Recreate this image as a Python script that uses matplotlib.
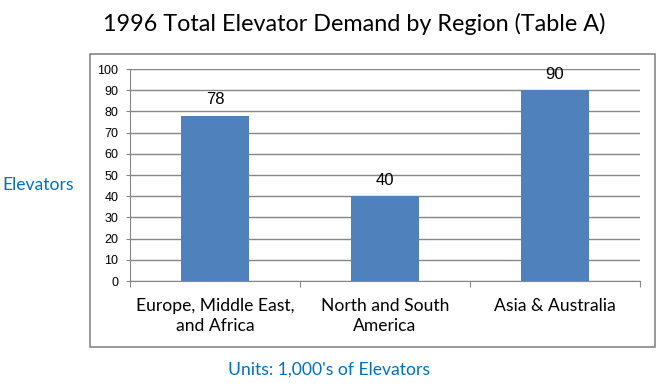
import matplotlib
matplotlib.use("Agg")
import matplotlib.pyplot as plt
from matplotlib.patches import Rectangle

categories = ["Europe, Middle East,\nand Africa", "North and South\nAmerica", "Asia & Australia"]
values = [78, 40, 90]
yticks = [0, 10, 20, 30, 40, 50, 60, 70, 80, 90, 100]

W, H = 661, 391
fig = plt.figure(figsize=(W / 100, H / 100), dpi=100)
fig.patch.set_facecolor("white")

# outer plot-area border
fig.patches.append(Rectangle((90 / W, 1 - 347 / H), (655 - 90) / W, (347 - 54) / H,
                             transform=fig.transFigure, fill=False,
                             edgecolor="#868686", linewidth=1.2))

ax = fig.add_axes([130 / W, 1 - 281 / H, (640 - 130) / W, (281 - 69) / H])
x = list(range(len(categories)))
bars = ax.bar(x, values, width=0.4, color="#4F81BD", zorder=3)
ax.set_xlim(-0.5, len(categories) - 0.5)
ax.set_ylim(0, 100)
ax.set_yticks(yticks)
ax.set_yticklabels([str(t) for t in yticks], fontsize=9, family="Liberation Sans")
ax.yaxis.grid(True, color="#868686", linewidth=1.0, zorder=0)
ax.tick_params(axis="y", length=3, color="#868686", pad=5.5)
ax.set_xticks([i - 0.5 for i in range(len(categories) + 1)], minor=False)
ax.set_xticklabels([])
ax.tick_params(axis="x", length=4, color="#868686")
ax.set_xticks(x, minor=True)
ax.set_xticklabels(categories, minor=True, fontsize=12.6, family="Lato", linespacing=1.3)
ax.tick_params(axis="x", which="minor", length=0, pad=12)
for s in ["top", "right"]:
    ax.spines[s].set_visible(False)
for s in ["left", "bottom"]:
    ax.spines[s].set_color("#868686")

for b, v in zip(bars, values):
    ax.annotate(str(v), (b.get_x() + b.get_width() / 2, v), xytext=(0, 6),
                textcoords="offset points", ha="center", va="bottom",
                fontsize=12, family="Liberation Sans")

fig.text(354 / W, 1 - 24 / H, "1996 Total Elevator Demand by Region (Table A)",
         ha="center", va="center", fontsize=16.8, family="Lato")
fig.text(38 / W, 1 - 185 / H, "Elevators", ha="center", va="center",
         fontsize=12.6, color="#0070C0", family="Lato")
fig.text(329 / W, 1 - 370 / H, "Units: 1,000's of Elevators", ha="center", va="center",
         fontsize=12.6, color="#0070C0", family="Lato")

fig.savefig("out.png", dpi=100)
